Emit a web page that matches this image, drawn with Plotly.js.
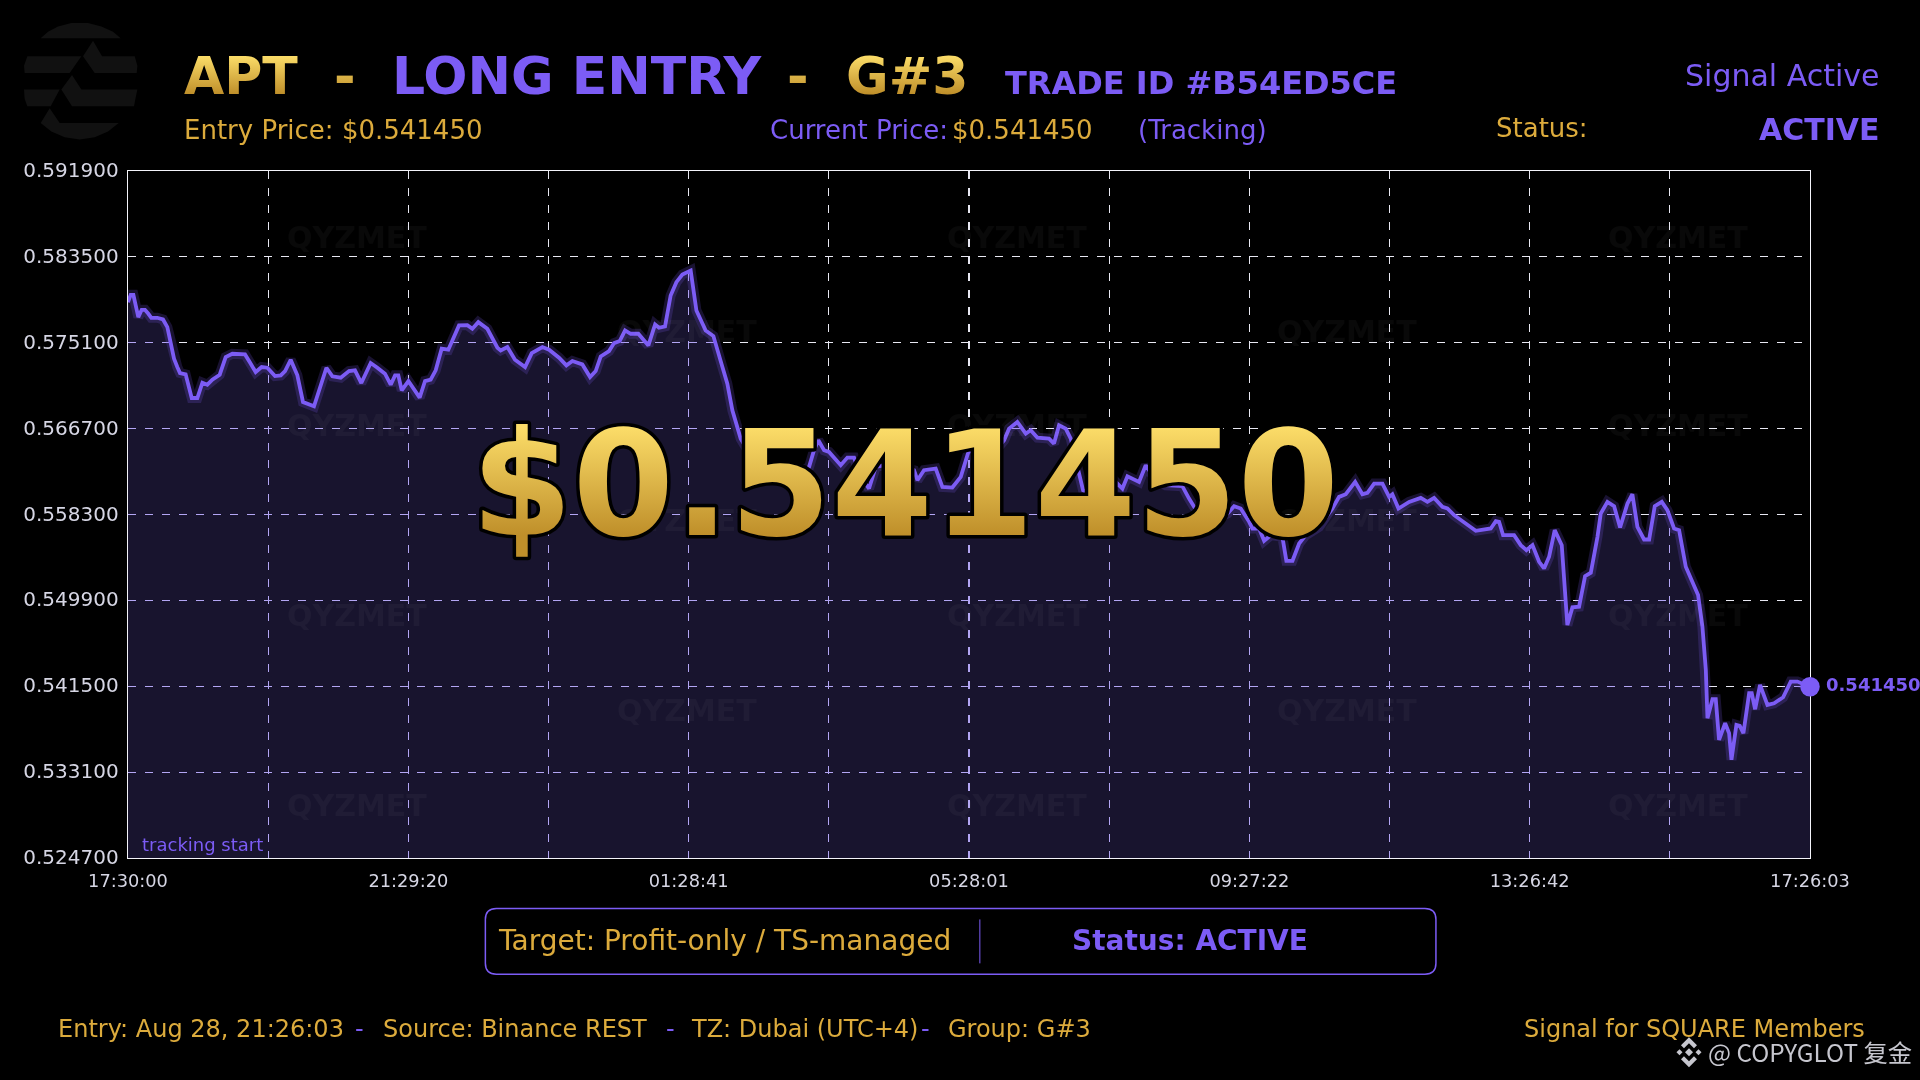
<!DOCTYPE html>
<html>
<head>
<meta charset="utf-8">
<script src="https://cdn.plot.ly/plotly-3.0.1.min.js"></script>
<style>html,body{margin:0;padding:0;background:#000;overflow:hidden}#chart{width:1920px;height:1080px}</style>
</head>
<body>
<div id="chart"></div>
<script>
// ---- data ----
const elapsedMinutes = [0,2.3,4.6,6.6,8.8,11.7,14.5,17.4,19.9,25,29.9,33.6,35.6,37.3,39.3,42.1,44.4,49.2,51.5,54.4,59.2,63.5,67.7,72,78.3,83.4,89.1,99.9,103.9,109,114.1,119,125.5,130.4,134.1,138.9,144.6,149.4,158.8,164.5,169.4,174.5,181.6,188.7,193.8,199.2,207.2,212.9,219.4,224.3,228,230.8,233.7,239.4,244.2,249,253.6,258.4,262.7,267.8,273.5,282.6,289.7,294,299.1,306.8,315.4,318.2,323.9,330.4,339,344.7,353.8,359.5,368,
374.3,379.4,387.9,394.5,399.3,403.6,410.7,415,419.8,424.4,429.2,435.7,444.3,450,453.4,458.5,463.3,468.2,473.3,480.4,485.3,493.2,499.8,507.5,511.7,516,523.1,535.9,550.2,567.2,581.5,585.7,589.4,594.3,598.5,608.5,614.2,619.9,625.6,632.7,638.4,652.6,664,671.1,674,679.6,689.6,695.3,703.8,711,717.5,732.3,740.8,748,752.2,759.3,766.5,770.7,776.4,786.4,790.6,794.9,
800.6,804.9,810.6,815.4,829.1,837.6,844.7,849,853.3,857,863.2,868.9,877.5,886,900.2,905.9,910.2,923,931.5,938.7,944.4,950,957.2,960,965.7,970,975.7,985.6,989,994.2,999.9,1005.5,1016.9,1028.3,1034,1039.7,1047.7,1053.9,1058.2,1063.9,1071,1076.7,1079.5,1084.7,1093.8,1103.7,1109.4,1115.1,1122.2,1126.5,1132.2,1150.7,1163.5,1167.8,
1170.6,1174,1183.4,1189.1,1193.9,1199.1,1204.8,1209,1213.3,1218.1,1224.1,1227.5,1228.9,1233.2,1238.9,1244,1248.9,1254.6,1257.4,1263.1,1268.8,1273.9,1280.2,1284.4,1288.7,1294.4,1298.7,1303.5,1309.5,1314.3,1320,1324.3,1330,1340.5,1344.2,1347.1,1348.5,1352.8,1355.6,1358.4,1363.6,1367,1369,1373.2,1376.1,1379.2,1384.1,1386.3,1389.2,1393.4,1399.7,1405.4,1413.1,1419.6,1425.3,1436.05];
const priceValues = [0.579072,0.579789,0.579789,0.578747,0.577607,0.578323,0.578323,0.577933,0.577542,0.577542,0.577379,0.57663,0.575588,0.574677,0.573537,0.572723,0.572137,0.572007,0.570932,0.569695,0.569695,0.571193,0.570997,0.571486,0.571974,0.5737,0.574025,0.57396,0.573211,0.572235,0.572723,0.572658,0.571844,0.571909,0.572332,0.573439,0.571909,0.569304,0.568881,0.570769,0.572658,0.571811,0.571681,0.572332,0.572397,0.57116,0.573114,0.572658,0.572072,0.570997,0.571909,0.571909,0.570444,0.571355,0.570607,0.569727,0.571355,0.571486,0.572397,0.574514,0.574416,0.576793,0.576826,0.576467,0.577119,0.576467,0.574611,0.574351,0.574677,0.573439,0.572723,0.574091,0.574677,0.574416,0.573635,
0.572886,0.573309,0.572983,0.571746,0.572332,0.573765,0.574286,0.575067,0.575263,0.576305,0.575979,0.575979,0.574839,0.576891,0.576565,0.576695,0.579723,0.581026,0.581775,0.582165,0.578258,0.576305,0.575751,0.572723,0.571095,0.56849,0.565723,0.563281,0.561978,0.561978,0.562955,0.564583,0.56556,0.564583,0.56442,0.563118,0.563867,0.563867,0.561978,0.560839,0.562955,0.563281,0.562955,0.562629,0.561653,0.562629,0.562792,0.561001,0.560936,0.561978,0.56442,0.564909,0.564583,0.56556,0.566699,0.567351,0.566211,0.566537,0.56582,0.565723,0.565234,0.567025,
0.566699,0.565723,0.562955,0.560676,0.559699,0.560025,0.561327,0.560839,0.562043,0.561815,0.56149,0.563118,0.561653,0.561164,0.561067,0.559862,0.559048,0.557745,0.558071,0.558397,0.559113,0.558885,0.557583,0.556931,0.556931,0.555727,0.55628,0.556117,0.553773,0.553773,0.555466,0.55628,0.557094,0.558885,0.560025,0.560285,0.56149,0.560285,0.560415,0.561327,0.561327,0.560025,0.560285,0.558885,0.559536,0.559927,0.559536,0.559927,0.559048,0.558885,0.558234,0.556703,0.556931,0.557648,
0.557583,0.55628,0.55628,0.555303,0.554815,0.555303,0.553675,0.553024,0.554164,0.556769,0.555303,0.549605,0.547489,0.549215,0.54928,0.552275,0.552601,0.556117,0.558397,0.559536,0.559113,0.557029,0.559373,0.560285,0.557094,0.555857,0.555857,0.559113,0.559536,0.558722,0.556931,0.556769,0.553187,0.550419,0.547326,0.543093,0.538372,0.540228,0.540228,0.536256,0.537884,0.536907,0.534302,0.537721,0.537623,0.536907,0.540814,0.540814,0.539251,0.541628,0.539675,0.539837,0.540423,0.541954,0.541954,0.54145];
const yTickValues = [0.5247,0.5331,0.5415,0.5499,0.5583,0.5667,0.5751,0.5835,0.5919];
const yTickLabels = ["0.524700","0.533100","0.541500","0.549900","0.558300","0.566700","0.575100","0.583500","0.591900"];
const xTickLabels = ["17:30:00","","21:29:20","","01:28:41","","05:28:01","","09:27:22","","13:26:42","","17:26:03"];
const watermarkSpots = [[357.5,236],[1017.6,236],[1677.6,236],[687,331],[1347,331],[357.5,425],[1017.6,425],[1677.6,425],[687,520],[1347,520],[357.5,615],[1017.6,615],[1677.6,615],[687,710],[1347,710],[357.5,805],[1017.6,805],[1677.6,805]];

const FULL_SPAN = 1436.05;
const GOLD = '#dcab3c', PURPLE = '#7c5cf5', FONT = '"DejaVu Sans", sans-serif';
const PL = 128.3, PR = 110, PT = 170.5, PB = 221.5, PW = 1920-PL-PR, PH = 1080-PT-PB;
const xRange = [0, FULL_SPAN], yRange = [yTickValues[0], yTickValues[yTickValues.length-1]];
const xTickValues = xTickLabels.map((_, i) => i * FULL_SPAN / (xTickLabels.length-1));

const px = x => (x-PL)/PW, py = y => 1-(y-PT)/PH;

const annotations = [];
function label(text, x, base, size, color, o) {
  o = o || {};
  annotations.push({ text: text, xref:'paper', yref:'paper', x:px(x), y:py(base-0.346*size),
    xanchor:o.anchor||'left', yanchor:'middle', showarrow:false, borderpad:0,
    font:{family:o.family||FONT, size:size, color:color, weight:o.bold?700:400}, captureevents:false });
  return annotations.length-1;
}
watermarkSpots.forEach(p => label('QYZMET', p[0], p[1]+11, 30, 'rgba(255,255,255,0.036)', {anchor:'center', bold:true}));

const gradientIdx = [];
gradientIdx.push(label('APT', 183, 93, 52, GOLD, {bold:true}));
gradientIdx.push(label('-', 333, 93, 52, GOLD, {bold:true}));
label('LONG ENTRY', 391, 93, 52, PURPLE, {bold:true});
gradientIdx.push(label('-', 786.5, 93, 52, GOLD, {bold:true}));
gradientIdx.push(label('G#3', 845, 93, 52, GOLD, {bold:true}));
label('TRADE ID #B54ED5CE', 1004, 93.5, 32, PURPLE, {bold:true});
label('Signal Active', 1881, 85, 30, PURPLE, {anchor:'right'});
label('Entry Price: $0.541450', 183, 138, 26, GOLD);
label('Current Price:', 769, 138, 26, PURPLE);
label('$0.541450', 951.5, 138, 26, GOLD);
label('(Tracking)', 1137, 138, 26, PURPLE);
label('Status:', 1495, 136, 26, GOLD);
label('ACTIVE', 1881, 139, 30, PURPLE, {anchor:'right', bold:true});
label('tracking start', 141, 851, 18, PURPLE);
label('0.541450', 1825, 691, 18, PURPLE, {bold:true});
label('Target: Profit-only / TS-managed', 497, 951, 28, GOLD);
label('Status: ACTIVE', 1190, 951, 28, PURPLE, {anchor:'center', bold:true});
label('Entry: Aug 28, 21:26:03', 57, 1038, 24, GOLD);
label('-', 354, 1038, 24, PURPLE);
label('Source: Binance REST', 382, 1038, 24, GOLD);
label('-', 665, 1038, 24, PURPLE);
label('TZ: Dubai (UTC+4)', 690, 1038, 24, GOLD);
label('-', 920, 1038, 24, PURPLE);
label('Group: G#3', 947.5, 1038, 24, GOLD);
label('Signal for SQUARE Members', 1523, 1038, 24, GOLD);
label('@ COPYGLOT 复金', 1707, 1061, 24.3, '#c6c6ce', {family:'"Noto Sans CJK SC", sans-serif'});
const bigPriceIdx = label('$0.541450', 905, 534, 146, GOLD, {anchor:'center', bold:true});
gradientIdx.push(bigPriceIdx);

// decorative logo pieces, in zoomed picture coordinates
const logoPieces = [
 [[78,68],[100,48],[130,32],[170,22],[220,22],[260,32],[295,48],[318,68]],
 [[38,122],[200,122],[165,172],[30,172],[28,150]],
 [[235,75],[262,122],[360,122],[368,150],[366,172],[240,172],[205,122]],
 [[28,222],[135,222],[108,272],[38,272],[30,250]],
 [[172,178],[200,222],[368,222],[362,250],[358,272],[172,272],[140,222]],
 [[105,278],[135,322],[312,322],[280,348],[240,365],[195,372],[150,365],[110,348],[78,322]]
];
const binancePieces = [
 [[1689,1049],[1693,1053],[1689,1057],[1685,1053]],
 [[1679.5,1050],[1682.5,1053],[1679.5,1056],[1676.5,1053]],
 [[1698.5,1050],[1701.5,1053],[1698.5,1056],[1695.5,1053]],
 [[1689,1038],[1697,1046],[1694,1049],[1689,1044],[1684,1049],[1681,1046]],
 [[1689,1068],[1697,1060],[1694,1057],[1689,1062],[1684,1057],[1681,1060]]
];
const polyPath = pts => 'M' + pts.map(p => px(p[0])+','+py(p[1])).join(' L') + ' Z';
const shapes = [];
logoPieces.forEach(p => shapes.push({type:'path', xref:'paper', yref:'paper', line:{width:0}, fillcolor:'#111111',
  path: polyPath(p.map(q => [15+q[0]/3, 15+q[1]/3]))}));
binancePieces.forEach(p => shapes.push({type:'path', xref:'paper', yref:'paper', line:{width:0}, fillcolor:'#c6c6ce', path: polyPath(p)}));
// status box
const bx0=485.6, bx1=1436, by0=909, by1=975, r=11;
shapes.push({type:'path', xref:'paper', yref:'paper', fillcolor:'rgba(0,0,0,0)', line:{color:PURPLE,width:1.5},
  path:`M${px(bx0+r)},${py(by0)} L${px(bx1-r)},${py(by0)} Q${px(bx1)},${py(by0)} ${px(bx1)},${py(by0+r)} L${px(bx1)},${py(by1-r)} Q${px(bx1)},${py(by1)} ${px(bx1-r)},${py(by1)} L${px(bx0+r)},${py(by1)} Q${px(bx0)},${py(by1)} ${px(bx0)},${py(by1-r)} L${px(bx0)},${py(by0+r)} Q${px(bx0)},${py(by0)} ${px(bx0+r)},${py(by0)} Z`});
shapes.push({type:'line', xref:'paper', yref:'paper', x0:px(980), x1:px(980), y0:py(920), y1:py(964), line:{color:PURPLE,width:1}});

// closed area polygon, nudged just over the axis lines
const padX = 0.7, padY = 0.00008;
const areaX = [-padX].concat(elapsedMinutes, [FULL_SPAN+padX, FULL_SPAN+padX, -padX]);
const areaY = [priceValues[0]].concat(priceValues, [priceValues[priceValues.length-1], yRange[0]-padY, yRange[0]-padY]);
const areaTrace = color => ({x:areaX, y:areaY, mode:'lines', line:{width:0}, fill:'toself', fillcolor:color, cliponaxis:false, hoverinfo:'skip', showlegend:false});

const data = [
  areaTrace('#bcaeff'),
  areaTrace('#18142e'),
  {x:elapsedMinutes, y:priceValues, mode:'lines', line:{color:'rgba(124,92,245,0.2)', width:10}, cliponaxis:false, hoverinfo:'skip', showlegend:false},
  {x:elapsedMinutes, y:priceValues, mode:'lines', line:{color:PURPLE, width:3.8}, cliponaxis:false, showlegend:false},
  {x:[elapsedMinutes[elapsedMinutes.length-1]], y:[priceValues[priceValues.length-1]], mode:'markers', marker:{color:PURPLE, size:19.5}, cliponaxis:false, showlegend:false}
];

const axisCommon = {showline:true, mirror:true, linecolor:'#f4f4fa', linewidth:1.3, layer:'below traces', zeroline:false,
  showgrid:true, gridcolor:'#e8e8f2', gridwidth:1.15, griddash:'8px,9px', ticks:'', tickmode:'array'};
const layout = {
  width:1920, height:1080, margin:{l:PL, r:PR, t:PT, b:PB, pad:0},
  paper_bgcolor:'#000', plot_bgcolor:'#000', showlegend:false,
  xaxis:Object.assign({}, axisCommon, {range:xRange, tickvals:xTickValues, ticktext:xTickLabels, ticklabelstandoff:6,
    tickangle:0, tickfont:{family:FONT, size:17.8, color:'#d6d6e4'}}),
  yaxis:Object.assign({}, axisCommon, {range:yRange, tickvals:yTickValues, ticktext:yTickLabels, ticklabelstandoff:4, ticklabelshift:-1,
    tickfont:{family:FONT, size:20, color:'#d6d6e4'}}),
  annotations:annotations, shapes:shapes
};

Plotly.newPlot('chart', data, layout, {displayModeBar:false, staticPlot:true}).then(gd => {
  const NS = 'http://www.w3.org/2000/svg';
  const svg = gd.querySelector('svg.main-svg');
  const defs = document.createElementNS(NS,'defs');
  const grad = document.createElementNS(NS,'linearGradient');
  grad.setAttribute('id','goldGrad'); grad.setAttribute('x1','0'); grad.setAttribute('y1','0'); grad.setAttribute('x2','0'); grad.setAttribute('y2','1');
  [['0.17','#fbdc68'],['0.8','#bf8f2a']].forEach(s => {
    const st = document.createElementNS(NS,'stop'); st.setAttribute('offset',s[0]); st.setAttribute('stop-color',s[1]); grad.appendChild(st);
  });
  defs.appendChild(grad); svg.appendChild(defs);
  gradientIdx.forEach(i => {
    const t = gd.querySelector('.annotation[data-index="'+i+'"] text');
    if (t) t.style.fill = 'url(#goldGrad)';
  });
  const big = gd.querySelector('.annotation[data-index="'+bigPriceIdx+'"] text');
  if (big) { big.style.stroke='#000'; big.style.strokeWidth='7px'; big.style.paintOrder='stroke'; big.style.strokeLinejoin='round'; }
  const traces = gd.querySelectorAll('.scatterlayer .trace');
  // the area traces blend with the grid below them: white grid turns lavender, black turns dark violet
  [[0,'multiply'],[1,'screen']].forEach(([i,mode]) => {
    const tr = traces[i];
    tr.style.mixBlendMode = mode;
    for (let n = tr; n && n !== svg; n = n.parentNode) {
      n.removeAttribute('clip-path');
      n.style.clipPath = 'none';
    }
  });
});
</script>
</body>
</html>
